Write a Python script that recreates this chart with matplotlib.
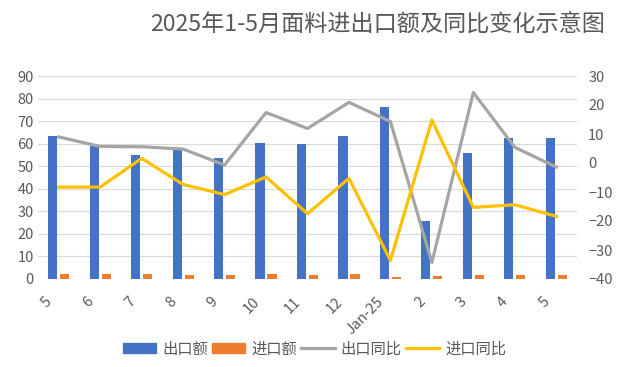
import matplotlib
matplotlib.use("Agg")
import matplotlib.pyplot as plt
import numpy as np
from matplotlib.patches import Patch
from matplotlib.lines import Line2D
from matplotlib.transforms import ScaledTranslation

plt.rcParams['font.family'] = ['Noto Sans CJK SC', 'DejaVu Sans']

categories = ["5", "6", "7", "8", "9", "10", "11", "12", "Jan-25", "2", "3", "4", "5"]
export_amt = [63.5, 58.8, 55.1, 57.3, 53.8, 60.4, 60.0, 63.5, 76.4, 25.8, 56.0, 62.6, 62.6]
import_amt = [2.3, 2.3, 2.3, 1.9, 1.9, 2.3, 1.9, 2.3, 1.0, 1.4, 1.9, 1.9, 1.9]
export_yoy = [9.0, 5.7, 5.6, 4.8, -0.7, 17.4, 11.9, 20.9, 14.3, -34.3, 24.3, 5.4, -1.4]
import_yoy = [-8.3, -8.3, 1.6, -7.4, -10.9, -4.8, -17.5, -5.3, -33.6, 14.8, -15.3, -14.4, -18.4]

c_blue = "#4472C4"
c_orange = "#ED7D31"
c_gray = "#A5A5A5"
c_yellow = "#FFC000"
txt = "#595959"

fig = plt.figure(figsize=(6.29, 3.67), dpi=100)
ax = fig.add_axes([38/629, 1-279/367, (577-38)/629, (279-76)/367])
ax2 = ax.twinx()

x = np.arange(len(categories))
w = 0.22
ax.bar(x - 0.145, export_amt, w, color=c_blue, zorder=2)
ax.bar(x + 0.145, import_amt, w, color=c_orange, zorder=2)
ax2.plot(x, export_yoy, color=c_gray, lw=2.3, solid_joinstyle='round', zorder=3)
ax2.plot(x, import_yoy, color=c_yellow, lw=2.3, solid_joinstyle='round', zorder=3)

ax.set_xlim(-0.5, len(categories) - 0.5)
ax.set_ylim(0, 90)
ax.set_yticks(range(0, 91, 10))
ax2.set_ylim(-40, 30)
ax2.set_yticks(range(-40, 31, 10))

ax.grid(axis='y', color='#D9D9D9', lw=0.8, zorder=0)
ax.set_axisbelow(True)
for a in (ax, ax2):
    for s in a.spines.values():
        s.set_visible(False)
    a.tick_params(length=0, colors=txt, labelsize=10.5)
ax.set_xticks(x)
ax.set_xticklabels(categories, rotation=45, ha='right', va='top', rotation_mode='default')
ax.tick_params(axis='x', pad=11)
ax.tick_params(axis='y', pad=3)
ax2.tick_params(axis='y', pad=8)
shift = ScaledTranslation(-4/100, 0, fig.dpi_scale_trans)
for lab in ax.get_xticklabels():
    lab.set_transform(lab.get_transform() + shift)

fig.text(378/629, 1-25/367, "2025年1-5月面料进出口额及同比变化示意图", ha='center', va='center',
         fontsize=16.7, color=txt, fontweight='light')

handles = [Patch(color=c_blue), Patch(color=c_orange),
           Line2D([], [], color=c_gray, lw=2.3), Line2D([], [], color=c_yellow, lw=2.3)]
labels = ["出口额", "进口额", "出口同比", "进口同比"]
fig.legend(handles, labels, loc='center', bbox_to_anchor=(0.5, 1-349/367), ncol=4,
           frameon=False, fontsize=11, labelcolor=txt, handlelength=2.2, handletextpad=0.4,
           columnspacing=0.25, handleheight=0.6)

fig.savefig("out.png", dpi=100)
